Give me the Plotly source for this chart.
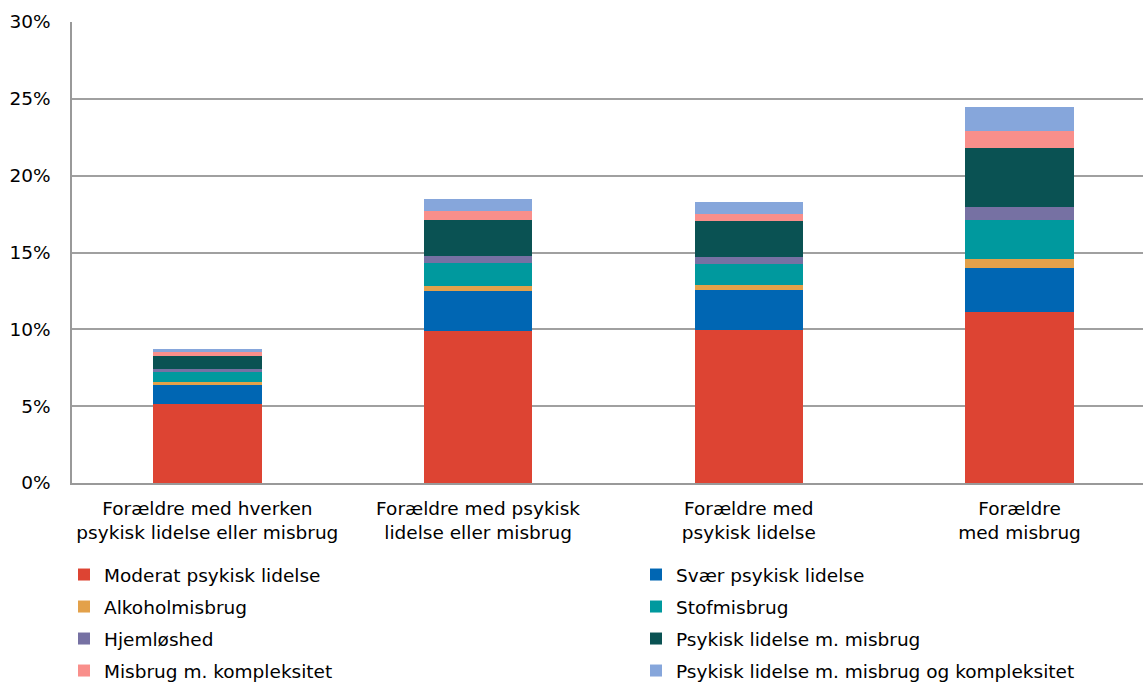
import plotly.graph_objects as go

categories = [
    "Forældre med hverken<br>psykisk lidelse eller misbrug",
    "Forældre med psykisk<br>lidelse eller misbrug",
    "Forældre med<br>psykisk lidelse",
    "Forældre<br>med misbrug",
]

series_names = [
    "Moderat psykisk lidelse",
    "Svær psykisk lidelse",
    "Alkoholmisbrug",
    "Stofmisbrug",
    "Hjemløshed",
    "Psykisk lidelse m. misbrug",
    "Misbrug m. kompleksitet",
    "Psykisk lidelse m. misbrug og kompleksitet",
]

moderat = [5.13, 9.92, 9.97, 11.11]
svaer = [1.22, 2.56, 2.58, 2.86]
alkohol = [0.20, 0.35, 0.33, 0.63]
stof = [0.67, 1.47, 1.39, 2.52]
hjemloshed = [0.17, 0.50, 0.47, 0.87]
psyk_misbrug = [0.87, 2.34, 2.32, 3.79]
misbrug_kompl = [0.24, 0.57, 0.47, 1.15]
psyk_misbrug_kompl = [0.24, 0.78, 0.74, 1.52]

series_values = [moderat, svaer, alkohol, stof, hjemloshed,
                 psyk_misbrug, misbrug_kompl, psyk_misbrug_kompl]

colors = ["#DD4433", "#0066B3", "#E3A14A", "#00999E",
          "#7671A3", "#0A5253", "#F98F8B", "#86A6DB"]

y_ticks = [0, 5, 10, 15, 20, 25, 30]

FONT = "DejaVu Sans, Liberation Sans, Arial, sans-serif"
FS = 18.5

W, H = 1143, 684
L, R, T, B = 72, 0, 22, 201
PW = W - L - R
PH = H - T - B

def xpix(px):
    return (px - L) / PW

def ypix(py):
    return (H - B - py) / PH

# legend placement: two columns, four rows (row-major order)
col_x = [64, 636]
row_y = [575, 607, 639, 671]

fig = go.Figure()
layout_legends = {}
for i, (name, vals, col) in enumerate(zip(series_names, series_values, colors)):
    lg = "legend" if i == 0 else f"legend{i + 1}"
    fig.add_trace(go.Bar(
        x=categories, y=vals, name=name,
        marker=dict(color=col, line=dict(width=0)),
        width=0.4, legend=lg,
    ))
    r, c = divmod(i, 2)
    layout_legends[lg] = dict(
        orientation="v", xanchor="left", yanchor="middle",
        x=xpix(col_x[c]), y=ypix(row_y[r]),
        font=dict(family=FONT, size=FS, color="#000000"),
        bgcolor="rgba(0,0,0,0)", itemclick=False,
        borderwidth=0,
    )

fig.update_layout(
    barmode="stack",
    width=W, height=H,
    margin=dict(l=L, r=R, t=T, b=B, autoexpand=False),
    paper_bgcolor="white", plot_bgcolor="white",
    font=dict(family=FONT, size=FS, color="#000000"),
    showlegend=True,
    **layout_legends,
)

fig.update_xaxes(
    type="category", categoryorder="array", categoryarray=categories,
    range=[-0.5, 3.456], automargin=False,
    showline=True, linecolor="#999999", linewidth=1.5,
    showgrid=False, ticks="", ticklabelstandoff=8,
    tickfont=dict(family=FONT, size=FS, color="#000000"),
)
fig.update_yaxes(
    range=[0, 30], tickvals=y_ticks, automargin=False,
    ticktext=[f"{v}%" for v in y_ticks],
    showline=True, linecolor="#999999", linewidth=1.5,
    showgrid=True, gridcolor="#A0A0A0", gridwidth=1.5,
    zeroline=False, ticks="", ticklabelstandoff=16,
    tickfont=dict(family=FONT, size=FS, color="#000000"),
)

fig.write_html("out.html", config={"displayModeBar": False},
               post_script="document.body.style.margin='0';")
